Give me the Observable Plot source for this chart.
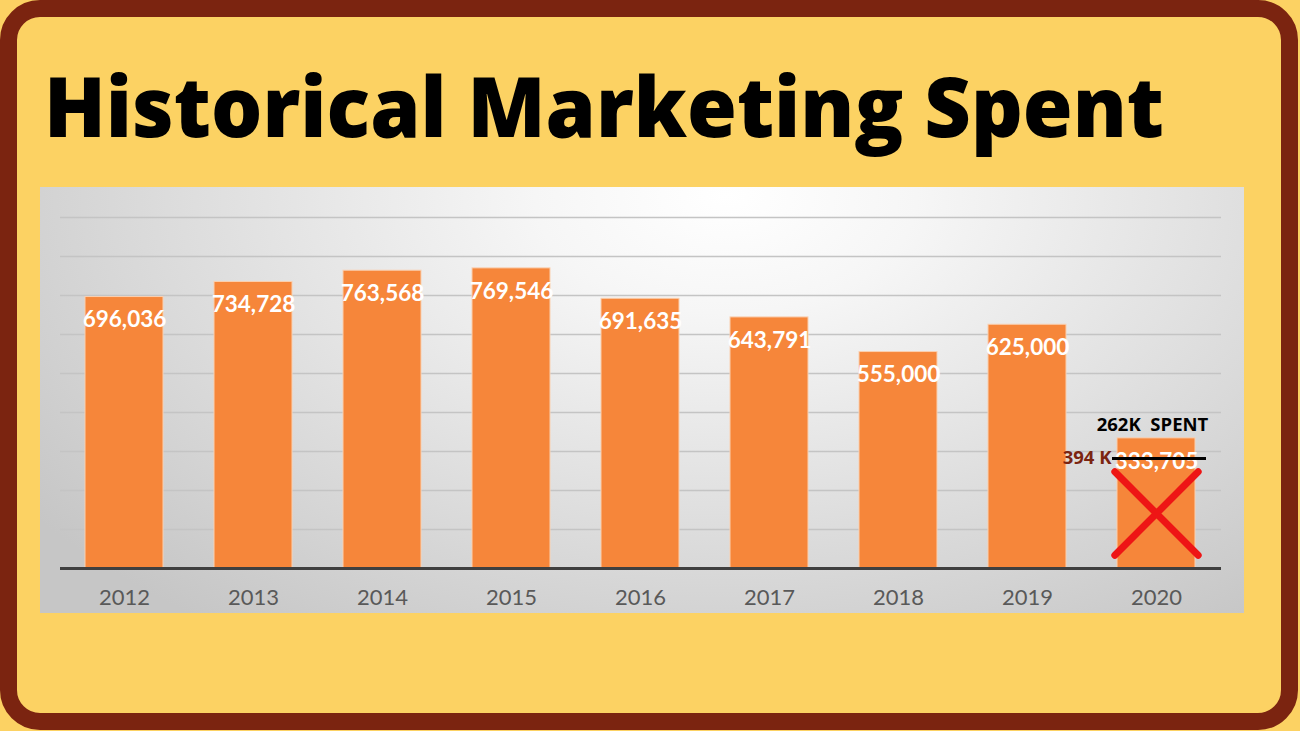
<!DOCTYPE html>
<html><head><meta charset="utf-8">
<script src="https://cdn.jsdelivr.net/npm/d3@7"></script>
<script src="https://cdn.jsdelivr.net/npm/@observablehq/plot@0.6"></script>
<style>
html,body{margin:0;padding:0;background:#FCD263;width:1300px;height:731px;overflow:hidden}
#frame{position:absolute;left:0;top:0;width:1264px;height:696px;border:17px solid #7B2410;border-radius:40px;background:#FCD263}
#title{position:absolute;left:0;top:0}
#panel{position:absolute;left:40px;top:187px;width:1204px;height:426px;
  background:radial-gradient(ellipse 72% 125% at 57% 2%, #ffffff 0%, #f6f6f6 22%, #e0e0e0 58%, #c6c6c6 100%);}
#panel svg{background:transparent;display:block}
#panel svg text{white-space:pre}
</style>
</head><body>
<div id="frame"></div>
<svg id="title" width="1300" height="180">
  <text x="44" y="137" font-family="'Open Sans', sans-serif" font-weight="800" font-size="83" fill="#000" textLength="1120" lengthAdjust="spacingAndGlyphs">Historical Marketing Spent</text>
</svg>
<div id="panel"></div>
<script>
// Data
const years = ["2012", "2013", "2014", "2015", "2016", "2017", "2018", "2019", "2020"];
const spend = [696036, 734728, 763568, 769546, 691635, 643791, 555000, 625000, 333705];
const gridValues = [100000, 200000, 300000, 400000, 500000, 600000, 700000, 800000, 900000];

// 2020 annotations (values in data units)
const noteYear = "2020";
const spentText = "262K  SPENT";
const spentY = 367000;
const budgetText = "394 K";
const budgetY = 282000;
const crossY = 141000;

const data = years.map((y, i) => ({year: y, value: spend[i]}));
const fmt = d3.format(",");

const chart = Plot.plot({
  width: 1204,
  height: 426,
  marginLeft: 20,
  marginRight: 23,
  marginTop: 30,
  marginBottom: 45,
  x: {domain: years, paddingInner: 0.395, paddingOuter: 0.1975, label: null},
  y: {domain: [0, 900000], axis: null},
  marks: [
    Plot.ruleY(gridValues, {stroke: "#c4c4c4", strokeWidth: 1.5}),
    Plot.barY(data, {x: "year", y: "value", fill: "#F6863A", stroke: "#FAD0B0", strokeWidth: 1}),
    Plot.ruleY([0], {stroke: "#3f3f3f", strokeWidth: 3}),
    Plot.text(data, {x: "year", y: "value", text: d => fmt(d.value), fill: "white",
      fontSize: 22.5, fontWeight: "bold", fontFamily: "Lato, sans-serif", dy: 23}),
    Plot.axisX({tickSize: 0, tickPadding: 21, fontSize: 22, fill: "#595959",
      fontFamily: "Lato, sans-serif", label: null}),
    Plot.tickY([{x: noteYear, y: budgetY}], {x: "x", y: "y", stroke: "#000", strokeWidth: 3,
      insetLeft: -5, insetRight: -11}),
    Plot.text([{x: noteYear, y: budgetY, t: budgetText}], {x: "x", y: "y", text: "t",
      fill: "#7B2410", fontSize: 18.5, fontWeight: "bold", fontFamily: "'Open Sans', sans-serif",
      textAnchor: "end", dx: -45}),
    Plot.text([{x: noteYear, y: spentY, t: spentText}], {x: "x", y: "y", text: "t",
      fill: "#000", fontSize: 18.5, fontWeight: "bold", fontFamily: "'Open Sans', sans-serif", dx: -4}),
    Plot.dot([{x: noteYear, y: crossY}], {x: "x", y: "y", symbol: "times", r: 38,
      stroke: "#EE1515", strokeWidth: 7, strokeLinecap: "round"})
  ]
});
document.getElementById("panel").appendChild(chart);
</script>
</body></html>
